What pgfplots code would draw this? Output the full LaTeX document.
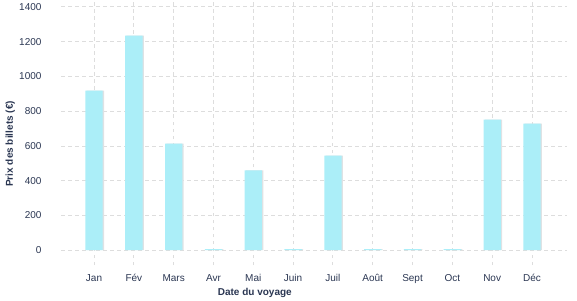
\documentclass[border=0pt]{standalone}
\usepackage{pgfplots}
\pgfplotsset{compat=1.18}
\usepackage{fontspec}
\setmainfont{Liberation Sans}
\definecolor{barc}{RGB}{171,238,248}
\definecolor{shad}{RGB}{222,226,228}
\definecolor{gridc}{RGB}{221,221,221}
\definecolor{txt}{RGB}{42,54,82}
\begin{document}
\begin{tikzpicture}
\useasboundingbox (0,0) rectangle (577pt,300pt);
\begin{axis}[
  at={(61pt,35pt)}, anchor=south west,
  scale only axis, width=506pt, height=265pt,
  xmin=-0.83, xmax=11.88, ymin=-85, ymax=1440,
  xtick={0,...,11},
  xticklabels={Jan,Fév,Mars,Avr,Mai,Juin,Juil,Août,Sept,Oct,Nov,Déc},
  ytick={0,200,...,1400},
  axis line style={draw=none},
  tick style={draw=none},
  xmajorgrids, ymajorgrids,
  grid style={gridc, line width=0.9pt, dash pattern=on 3.5pt off 3.5pt},
  /pgf/number format/assume math mode=true,
  /pgf/number format/1000 sep={},
  ticklabel style={font=\fontsize{10}{12}\selectfont, text=txt},
  yticklabel style={anchor=east, xshift=-16pt},
  xticklabel style={yshift=-1.5pt},
  xlabel={Date du voyage},
  ylabel={Prix des billets (€)},
  label style={font=\fontsize{10}{12}\selectfont\bfseries, text=txt},
  xlabel style={at={(axis description cs:0.383,-0.106)}, anchor=center},
  ylabel style={at={(axis description cs:-0.1,0.457)}, anchor=center, rotate=0},
  ybar, bar width=0.435,
]
\addplot[fill=shad, draw=none, bar shift=1.3pt] coordinates {
(0,918) (1,1235) (2,614) (3,6) (4,459) (5,6) (6,545) (7,6) (8,6) (9,6) (10,752) (11,729)};
\addplot[fill=barc, draw=none, bar shift=0pt] coordinates {
(0,918) (1,1235) (2,614) (3,6) (4,459) (5,6) (6,545) (7,6) (8,6) (9,6) (10,752) (11,729)};
\end{axis}
\end{tikzpicture}
\end{document}
